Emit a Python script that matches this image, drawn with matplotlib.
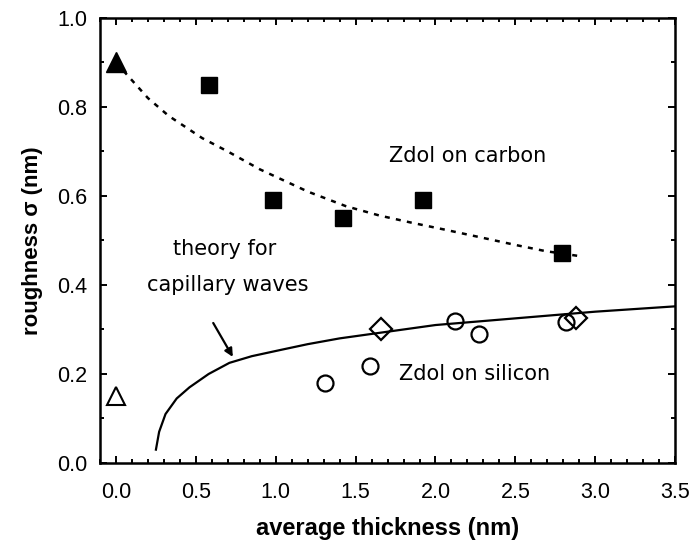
import numpy as np
import matplotlib
matplotlib.use("Agg")
import matplotlib.pyplot as plt
from matplotlib.ticker import MultipleLocator, FormatStrFormatter

plt.rcParams['font.family'] = ['Liberation Sans', 'DejaVu Sans']

# Zdol on carbon (filled) and on silicon (open)
carbon_x = [0.58, 0.98, 1.42, 1.92, 2.79]
carbon_y = [0.85, 0.59, 0.55, 0.59, 0.472]
tri_fill_x = [0.0]
tri_fill_y = [0.90]
tri_open_x = [0.0]
tri_open_y = [0.15]
circ_x = [1.31, 1.59, 2.12, 2.27, 2.82]
circ_y = [0.18, 0.218, 0.32, 0.29, 0.317]
diam_x = [1.66, 2.88]
diam_y = [0.30, 0.326]

# dotted guide curve through carbon data
guide_x = [0.0, 0.1, 0.2, 0.33, 0.54, 0.7, 0.9, 1.02, 1.2, 1.44, 1.65, 1.85, 2.05, 2.27, 2.5, 2.69, 2.9]
guide_y = [0.90, 0.86, 0.82, 0.78, 0.73, 0.70, 0.66, 0.64, 0.61, 0.577, 0.556, 0.54, 0.525, 0.508, 0.49, 0.476, 0.465]

# theory for capillary waves
theory_x = [0.25, 0.27, 0.31, 0.38, 0.46, 0.58, 0.71, 0.85, 1.03, 1.2, 1.4, 1.7, 2.0, 2.5, 3.0, 3.5]
theory_y = [0.03, 0.07, 0.11, 0.145, 0.17, 0.20, 0.225, 0.24, 0.254, 0.267, 0.28, 0.295, 0.31, 0.325, 0.34, 0.352]

fig = plt.figure(figsize=(6.96, 5.42), dpi=100)
ax = fig.add_axes([0.1437, 0.1458, 0.8263, 0.821])

ax.plot(guide_x, guide_y, color='black', lw=1.8, dashes=(2, 2.5))
ax.plot(theory_x, theory_y, color='black', lw=1.6)

ax.plot(carbon_x, carbon_y, 's', color='black', ms=12)
ax.plot(tri_fill_x, tri_fill_y, '^', color='black', ms=15, clip_on=False)
ax.plot(tri_open_x, tri_open_y, '^', mfc='white', mec='black', mew=1.5, ms=13, clip_on=False)
ax.plot(circ_x, circ_y, 'o', mfc='none', mec='black', mew=1.6, ms=11.5)
ax.plot(diam_x, diam_y, 'D', mfc='none', mec='black', mew=1.6, ms=11)

ax.annotate('', xy=(0.74, 0.233), xytext=(0.6, 0.32),
            arrowprops=dict(arrowstyle='-|>', color='black', lw=1.6,
                            mutation_scale=12))

note = dict(fontsize=15, family=['DejaVu Sans'], va='center')
ax.text(1.71, 0.69, 'Zdol on carbon', ha='left', **note)
ax.text(0.68, 0.48, 'theory for', ha='center', **note)
ax.text(0.70, 0.40, 'capillary waves', ha='center', **note)
ax.text(1.77, 0.20, 'Zdol on silicon', ha='left', **note)

ax.set_xlim(-0.1, 3.5)
ax.set_ylim(0.0, 1.0)
ax.xaxis.set_major_locator(MultipleLocator(0.5))
ax.xaxis.set_minor_locator(MultipleLocator(0.1))
ax.yaxis.set_major_locator(MultipleLocator(0.2))
ax.yaxis.set_minor_locator(MultipleLocator(0.1))
ax.xaxis.set_major_formatter(FormatStrFormatter('%.1f'))
ax.yaxis.set_major_formatter(FormatStrFormatter('%.1f'))
ax.tick_params(which='both', direction='in', top=True, right=True, width=1.4)
ax.tick_params(which='major', length=5, labelsize=15.5)
ax.tick_params(axis='x', which='major', pad=14)
ax.tick_params(axis='y', which='major', pad=9)
ax.tick_params(which='minor', length=3)
for s in ax.spines.values():
    s.set_linewidth(1.8)

ax.set_xlabel('average thickness (nm)', fontsize=17, fontweight='bold', labelpad=10)
ax.set_ylabel('roughness σ (nm)', fontsize=16, fontweight='bold', labelpad=10)

fig.savefig('out.png', dpi=100)
